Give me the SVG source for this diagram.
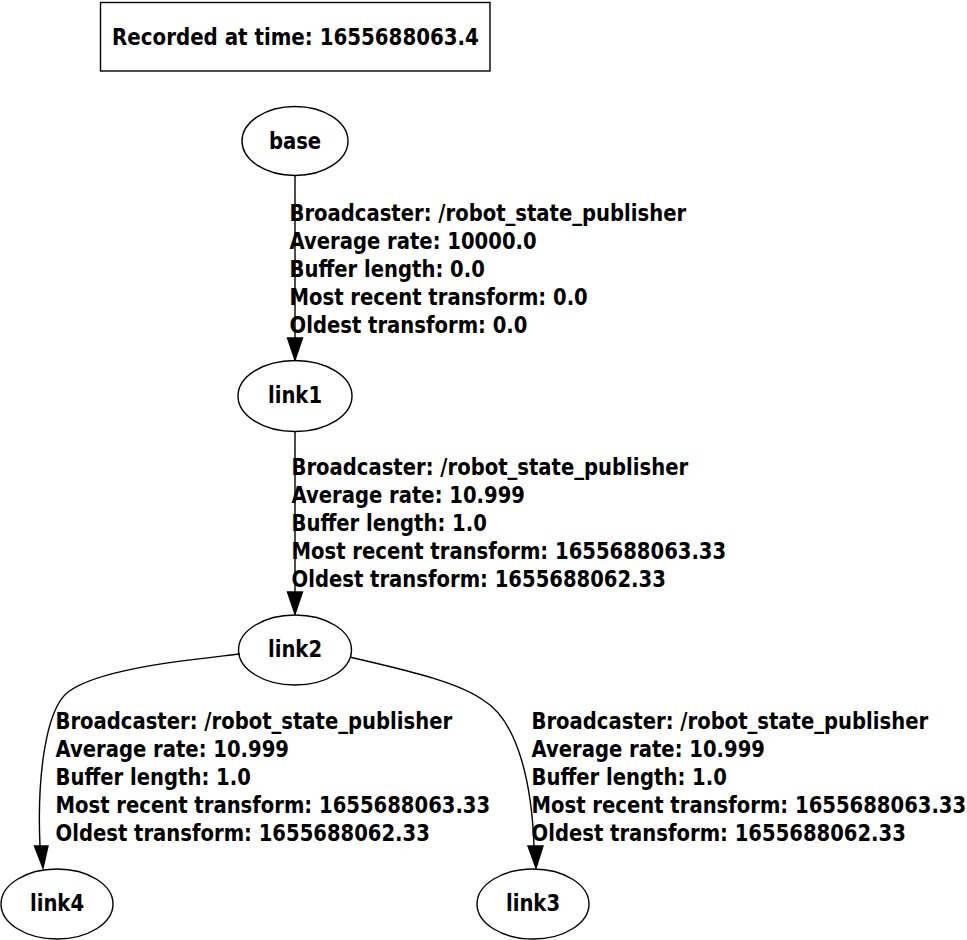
<svg xmlns="http://www.w3.org/2000/svg" width="967" height="940" viewBox="0 0 967 940">
<style>
  text { font-family: "DejaVu Sans", "Liberation Sans", sans-serif; font-weight: bold; font-size: 23px; fill: #000; }
  .mid { text-anchor: middle; }
  ellipse, rect { fill: none; stroke: #000; stroke-width: 1.4; }
  .edge { fill: none; stroke: #000; stroke-width: 1.4; }
  .head { fill: #000; stroke: #000; stroke-width: 1.4; }
</style>

<g id="title">
  <rect x="100.5" y="2.5" width="389.5" height="68.5"/>
  <text class="mid" transform="translate(295.5 45) scale(0.862 1)" x="0" y="0">Recorded at time: 1655688063.4</text>
</g>

<g id="connectors">
  <g id="edge-base-link1">
    <path class="edge" d="M295,176 L295,338"/>
    <polygon class="head" points="287.5,338 302.5,338 295,360"/>
    <text transform="translate(289.5 0) scale(0.853 1)"><tspan x="0" y="221">Broadcaster: /robot_state_publisher</tspan><tspan x="0" y="249">Average rate: 10000.0</tspan><tspan x="0" y="277">Buffer length: 0.0</tspan><tspan x="0" y="305">Most recent transform: 0.0</tspan><tspan x="0" y="333">Oldest transform: 0.0</tspan></text>
  </g>
  <g id="edge-link1-link2">
    <path class="edge" d="M295,431 L295,592"/>
    <polygon class="head" points="287.5,592 302.5,592 295,614"/>
    <text transform="translate(291.5 0) scale(0.853 1)"><tspan x="0" y="475">Broadcaster: /robot_state_publisher</tspan><tspan x="0" y="503">Average rate: 10.999</tspan><tspan x="0" y="531">Buffer length: 1.0</tspan><tspan x="0" y="559">Most recent transform: 1655688063.33</tspan><tspan x="0" y="587">Oldest transform: 1655688062.33</tspan></text>
  </g>
  <g id="edge-link2-link4">
    <path class="edge" d="M240,654 C190,660 100,668 68,692 C45,710 37,780 40,846"/>
    <polygon class="head" points="34.5,846 48,846 43,868"/>
    <text transform="translate(55.5 0) scale(0.853 1)"><tspan x="0" y="729">Broadcaster: /robot_state_publisher</tspan><tspan x="0" y="757">Average rate: 10.999</tspan><tspan x="0" y="785">Buffer length: 1.0</tspan><tspan x="0" y="813">Most recent transform: 1655688063.33</tspan><tspan x="0" y="841">Oldest transform: 1655688062.33</tspan></text>
  </g>
  <g id="edge-link2-link3">
    <path class="edge" d="M350,657 C395,668 455,680 483,700 C520,722 532,790 534,846"/>
    <polygon class="head" points="528,846 543,846 536,868"/>
    <text transform="translate(531.5 0) scale(0.853 1)"><tspan x="0" y="729">Broadcaster: /robot_state_publisher</tspan><tspan x="0" y="757">Average rate: 10.999</tspan><tspan x="0" y="785">Buffer length: 1.0</tspan><tspan x="0" y="813">Most recent transform: 1655688063.33</tspan><tspan x="0" y="841">Oldest transform: 1655688062.33</tspan></text>
  </g>
</g>

<g id="node-base">
  <ellipse cx="295" cy="141" rx="53" ry="34.5"/>
  <text class="mid" transform="translate(295 149) scale(0.853 1)" x="0" y="0">base</text>
</g>
<g id="node-link1">
  <ellipse cx="295" cy="396" rx="57" ry="35.5"/>
  <text class="mid" transform="translate(295 403) scale(0.853 1)" x="0" y="0">link1</text>
</g>
<g id="node-link2">
  <ellipse cx="295" cy="650" rx="56.5" ry="35"/>
  <text class="mid" transform="translate(295 657) scale(0.853 1)" x="0" y="0">link2</text>
</g>
<g id="node-link4">
  <ellipse cx="57" cy="904" rx="56" ry="35"/>
  <text class="mid" transform="translate(57 911) scale(0.853 1)" x="0" y="0">link4</text>
</g>
<g id="node-link3">
  <ellipse cx="533" cy="904" rx="56" ry="35"/>
  <text class="mid" transform="translate(533 911) scale(0.853 1)" x="0" y="0">link3</text>
</g>
</svg>
